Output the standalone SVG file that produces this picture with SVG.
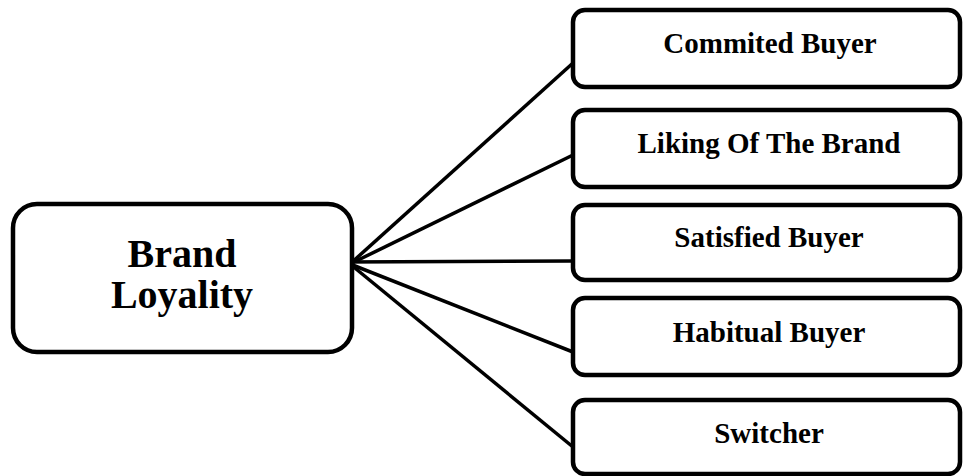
<svg xmlns="http://www.w3.org/2000/svg" width="963" height="476" viewBox="0 0 963 476">
<style>
.box{fill:#fff;stroke:#000;stroke-width:4.5}
.t{font-family:'Liberation Serif',Tinos,'Times New Roman',Times,serif;font-weight:700;fill:#000;text-anchor:middle}
.c{stroke:#000;stroke-width:3.5;fill:none}
</style>
<rect width="963" height="476" fill="#fff"/>
<g id="connectors">
<line class="c" x1="350" y1="264" x2="573" y2="63"/>
<line class="c" x1="350" y1="264" x2="573" y2="155"/>
<line class="c" x1="343" y1="262" x2="573" y2="261"/>
<line class="c" x1="350" y1="264" x2="573" y2="352"/>
<line class="c" x1="350" y1="264" x2="573" y2="447"/>
</g>
<g id="brand-loyality">
<rect class="box" x="13" y="204" width="339" height="148" rx="24"/>
<text class="t" x="182" y="267" font-size="40">Brand</text>
<text class="t" x="182" y="308" font-size="40">Loyality</text>
</g>
<g id="commited-buyer">
<rect class="box" x="573" y="10" width="387" height="77" rx="12"/>
<text class="t" x="770" y="53" font-size="29">Commited Buyer</text>
</g>
<g id="liking-of-the-brand">
<rect class="box" x="573" y="110" width="387" height="77" rx="12"/>
<text class="t" x="769" y="153" font-size="29">Liking Of The Brand</text>
</g>
<g id="satisfied-buyer">
<rect class="box" x="573" y="205" width="387" height="75" rx="12"/>
<text class="t" x="769" y="247" font-size="29">Satisfied Buyer</text>
</g>
<g id="habitual-buyer">
<rect class="box" x="573" y="298" width="387" height="77" rx="12"/>
<text class="t" x="769" y="342" font-size="29">Habitual Buyer</text>
</g>
<g id="switcher">
<rect class="box" x="573" y="400" width="387" height="74" rx="12"/>
<text class="t" x="769" y="443" font-size="29">Switcher</text>
</g>
</svg>
